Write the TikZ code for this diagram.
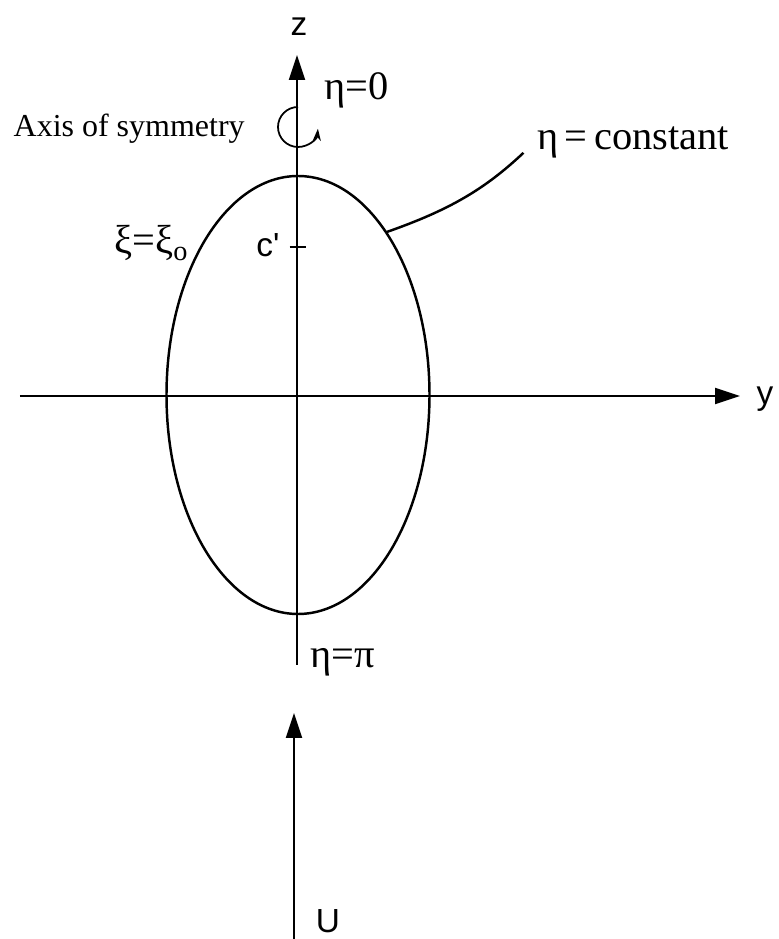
\documentclass[tikz,border=0pt]{standalone}
\usepackage{fontspec}
\setmainfont{Liberation Serif}
\newfontfamily\axisfont{Liberation Sans}
\usepackage{tikz}
\usetikzlibrary{arrows.meta,positioning,calc}

\begin{document}
\begin{tikzpicture}[>={Triangle[length=5mm,width=3.2mm]},
  axis/.style={line width=1.2pt},
  body/.style={line width=1.4pt},
  bigtxt/.style={font=\fontsize{23}{26}\selectfont, inner sep=1pt},
  axlbl/.style={font=\axisfont\fontsize{19}{22}\selectfont, inner sep=1pt}]
  \useasboundingbox (0,0) rectangle (15.58,18.78);
  % axes
  \coordinate (zlow) at (5.94,5.48);
  \coordinate (ztip) at (5.94,17.68);
  \coordinate (yleft) at (0.4,10.86);
  \coordinate (ytip) at (14.8,10.86);
  \draw[axis,->] (zlow) -- (ztip);
  \draw[axis,->] (yleft) -- (ytip);
  \node[axlbl] (zlab) at (5.98,18.24) {z};
  \node[axlbl] (ylab) at (15.3,10.8) {y};
  % spheroid
  \coordinate (ctr) at (5.96,10.88);
  \draw[body] (ctr) ellipse [x radius=2.63, y radius=4.38];
  \coordinate (lead) at ($(ctr)+(48:2.63 and 4.38)$);
  \coordinate (cfoc) at (5.94,13.84);
  \draw[axis] ($(cfoc)+(-0.15,0)$) -- ($(cfoc)+(0.17,0)$);
  \node[axlbl] (clab) at (5.36,13.88) {c'};
  \node[bigtxt] (xi) at (3.03,13.92) {ξ=ξ\textsubscript{o}};
  % rotation about z
  \draw[line width=1pt,-{Stealth[length=2.4mm,width=1.6mm]}]
    (5.96,16.64) arc[start angle=90, end angle=355, radius=0.4];
  \node[bigtxt,anchor=west] (eta0) at (6.44,16.98) {η=0};
  \node[font=\fontsize{18.2}{21}\selectfont,anchor=east,inner sep=0pt]
    (axsym) at (4.9,16.2) {Axis of symmetry};
  \node[bigtxt,anchor=west] (etaconst) at (10.7,15.94) {η\,=\,constant};
  \draw[body,shorten >=9pt] (lead) to[bend right=12] (etaconst.west);
  \node[bigtxt,anchor=west] (etapi) at (6.16,5.54) {η=π};
  % free stream
  \coordinate (ubot) at (5.88,0);
  \coordinate (utip) at (5.88,4.52);
  \draw[axis,->] (ubot) -- (utip);
  \node[axlbl] (ulab) at (6.56,0.36) {U};
\end{tikzpicture}
\end{document}
